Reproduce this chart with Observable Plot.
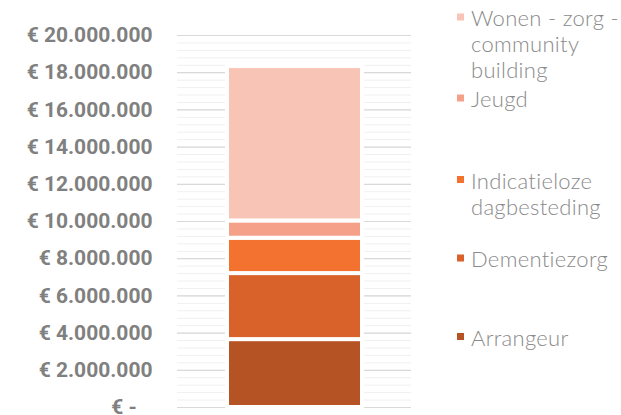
<!DOCTYPE html>
<html>
<head>
<meta charset="utf-8">
<script src="https://cdn.jsdelivr.net/npm/d3@7"></script>
<script src="https://cdn.jsdelivr.net/npm/@observablehq/plot@0.6"></script>
<style>
  html, body { margin: 0; padding: 0; background: #fff; }
  #wrap { position: relative; width: 621px; height: 415px; overflow: hidden; }
  #legend { position: absolute; left: 0; top: 0; }
</style>
</head>
<body>
<div id="wrap"><div id="chart"></div><svg id="legend" width="621" height="415"></svg></div>
<script>
// Data (bottom to top of the stack)
const categories = ["Arrangeur", "Dementiezorg", "Indicatieloze dagbesteding", "Jeugd", "Wonen - zorg - community building"];
const values = [3650000, 3550000, 1900000, 930000, 8300000];
const colors = ["#B65324", "#D9622B", "#F37230", "#F5A089", "#F8C4B6"];
const legendLines = [["Arrangeur"], ["Dementiezorg"], ["Indicatieloze", "dagbesteding"], ["Jeugd"], ["Wonen - zorg -", "community", "building"]];
const majorTicks = d3.range(0, 20000001, 2000000);
const minorTicks = d3.range(0, 20000001, 400000);

const table = categories.map((c, i) => ({group: "Totaal", category: c, value: values[i]}));

const nl = d3.formatLocale({decimal: ",", thousands: ".", grouping: [3], currency: ["€ ", ""]});
const fmt = nl.format(",.0f");
const tickFormat = d => d === 0 ? "€ -\u00a0\u00a0\u00a0" : "€ " + fmt(d);

const chart = Plot.plot({
  width: 621,
  height: 415,
  marginTop: 35,
  marginBottom: 8,
  marginLeft: 177,
  marginRight: 210,
  style: {background: "#fff", overflow: "visible"},
  x: {domain: ["Totaal"], padding: 0.268, axis: null},
  y: {domain: [0, 20000000], axis: null},
  color: {domain: categories, range: colors},
  marks: [
    Plot.ruleY(minorTicks, {stroke: "#f0f0f0", strokeWidth: 1}),
    Plot.ruleY(majorTicks, {stroke: "#d9d9d9", strokeWidth: 1.2}),
    Plot.barY(table, {x: "group", y: "value", fill: "category", order: categories, stroke: "#fff", strokeWidth: 4}),
    Plot.axisY({ticks: majorTicks, tickFormat, tickSize: 0, tickPadding: 25, label: null,
      fontSize: 21, fontWeight: "bold", fill: "#808080", fontFamily: "Roboto, sans-serif"})
  ]
});
document.getElementById("chart").appendChild(chart);

// Legend to the right of the plot (baselines of each text line)
const legendBaselines = [[345.5], [267], [188.5, 214.5], [107], [26, 52, 78]];
const svg = d3.select("#legend");
categories.forEach((c, i) => {
  const b0 = legendBaselines[i][0];
  svg.append("rect").attr("x", 457).attr("y", b0 - 12.5).attr("width", 7).attr("height", 7).attr("fill", colors[i]);
  legendLines[i].forEach((line, j) => {
    svg.append("text")
      .attr("x", 471).attr("y", legendBaselines[i][j])
      .attr("font-family", "Lato, 'Open Sans', sans-serif")
      .attr("font-weight", 300).attr("font-size", 22)
      .attr("letter-spacing", 0.3)
      .attr("fill", "#8a8a8a")
      .text(line);
  });
});
</script>
</body>
</html>
